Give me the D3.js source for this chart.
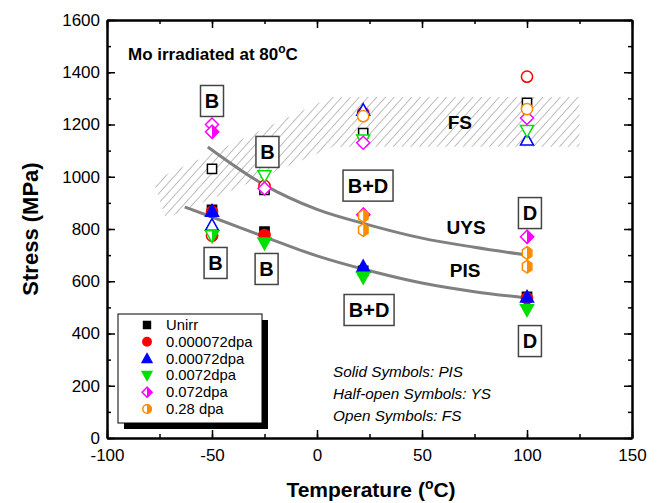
<!DOCTYPE html>
<html>
<head>
<meta charset="utf-8">
<script src="https://cdn.jsdelivr.net/npm/d3@7"></script>
<style>
  body { margin: 0; background: #fff; }
  svg { font-family: "Liberation Sans", Arial, Helvetica, sans-serif; }
</style>
</head>
<body>
<svg id="chart" width="660" height="503"></svg>
<script>
// values: [temperature degC, stress MPa]
const unirrPIS = [[-50, 873], [-25, 790], [22, 640], [100, 540]];
const unirrFS = [[-50, 1030], [-25, 950], [22, 1167], [100, 1283]];
const red1PIS = [[-50, 866], [-25, 777], [100, 535]];
const red1YS = [[-50, 775]];
const red1FS = [[-25, 965], [22, 1244], [100, 1383]];
const blue2PIS = [[-50, 869], [22, 656], [100, 540]];
const blue2FS = [[-50, 815], [22, 1255], [100, 1141]];
const green3PIS = [[-25, 746], [22, 615], [100, 490]];
const green3YS = [[-50, 773]];
const green3FS = [[-25, 1003], [22, 1140], [100, 1176]];
const mag4YS = [[-50, 1172], [22, 855], [100, 770]];
const mag4FS = [[-50, 1200], [-25, 955], [22, 1130], [100, 1225]];
const or5YS = [[22, 850], [22, 796], [100, 708], [100, 656]];
const or5FS = [[22, 1232], [100, 1259]];

const uysCurve = [[-52, 1114], [-25, 968], [0, 875], [25, 815], [50, 765], [75, 730], [100, 700]];
const pisCurve = [[-63, 884], [-50, 846], [-25, 770], [0, 697], [25, 640], [50, 593], [75, 560], [100, 536]];

const fsBand = [[7, 1115], [7, 1305], [125, 1305], [125, 1115]];
const ysBand = [[-78, 985], [7, 1305], [7, 1112], [-72, 840]];

const legendNames = ["Unirr", "0.000072dpa", "0.00072dpa", "0.0072dpa", "0.072dpa", "0.28 dpa"];
const boxLabels = [["B", -50, 1290], ["B", -23.6, 1095], ["B", -48.3, 670], ["B", -24, 647],
                   ["B+D", 24.3, 966], ["B+D", 24.8, 490], ["D", 101.4, 861], ["D", 101.4, 371]];
const curveLabels = [["FS", 68, 1210], ["UYS", 71, 808], ["PIS", 70.5, 643]];
const notes = ["Solid Symbols: PIS", "Half-open Symbols: YS", "Open Symbols: FS"];
const xTicks = [-100, -50, 0, 50, 100, 150];
const yTicks = [0, 200, 400, 600, 800, 1000, 1200, 1400, 1600];

const series = [
  {shape: "square", color: "#000", sets: [[unirrFS, "open"], [unirrPIS, "solid"]]},
  {shape: "circle", color: "#ff0000", sets: [[red1FS, "open"], [red1YS, "half"], [red1PIS, "solid"]]},
  {shape: "up", color: "#0000ff", sets: [[blue2FS, "open"], [blue2PIS, "solid"]]},
  {shape: "down", color: "#00e000", sets: [[green3FS, "open"], [green3YS, "half"], [green3PIS, "solid"]]},
  {shape: "diamond", color: "#ff00ff", sets: [[mag4FS, "open"], [mag4YS, "half"]]},
  {shape: "hex", color: "#ff8c00", sets: [[or5FS, "open", "circle"], [or5YS, "half"]]}
];

const svg = d3.select("#chart");
const x = d3.scaleLinear([-100, 150], [107, 632]);
const y = d3.scaleLinear([0, 1600], [438, 20]);

function shapePath(shape, k) {
  k = k || 1;
  if (shape === "square") { let s = 4.6 * k; return `M${-s},${-s}h${2 * s}v${2 * s}h${-2 * s}Z`; }
  if (shape === "circle") { let r = 5.6 * k; return `M${-r},0a${r},${r} 0 1,0 ${2 * r},0a${r},${r} 0 1,0 ${-2 * r},0Z`; }
  if (shape === "up") { let s = 6.5 * k; return `M0,${-s}L${s},${s * 0.8}L${-s},${s * 0.8}Z`; }
  if (shape === "down") { let s = 6.5 * k; return `M0,${s}L${s},${-s * 0.8}L${-s},${-s * 0.8}Z`; }
  if (shape === "diamond") { let s = 6.5 * k; return `M0,${-s}L${s},0L0,${s}L${-s},0Z`; }
  if (shape === "hex") {
    let r = 6.3 * k;
    return d3.range(6).map(i => {
      let a = (-90 + 60 * i) * Math.PI / 180;
      return (i ? "L" : "M") + (r * Math.cos(a) * 0.85) + "," + (r * Math.sin(a));
    }).join("") + "Z";
  }
}

const defs = svg.append("defs");
defs.append("pattern")
  .attr("id", "hatch")
  .attr("patternUnits", "userSpaceOnUse")
  .attr("width", 6.5).attr("height", 6.5)
  .attr("patternTransform", "rotate(42)")
  .append("line")
  .attr("x1", 0).attr("y1", 0).attr("x2", 0).attr("y2", 6.5)
  .attr("stroke", "#6e6e6e").attr("stroke-width", 0.9);
defs.append("clipPath").attr("id", "rightHalf")
  .append("rect").attr("x", 0).attr("y", -12).attr("width", 12).attr("height", 24);

// hatched bands
const area = d3.line().x(d => x(d[0])).y(d => y(d[1]));
svg.selectAll("path.band").data([ysBand, fsBand]).enter()
  .append("path").attr("class", "band")
  .attr("d", d => area(d) + "Z")
  .attr("fill", "url(#hatch)");

// fitted curves
const curve = d3.line().x(d => x(d[0])).y(d => y(d[1])).curve(d3.curveMonotoneX);
svg.selectAll("path.fit").data([uysCurve, pisCurve]).enter()
  .append("path").attr("class", "fit")
  .attr("d", curve)
  .attr("fill", "none").attr("stroke", "#808080").attr("stroke-width", 3);

// axes: major ticks with labels, minor ticks without, all pointing inward
function axes() {
  const g = svg.append("g");
  const xMinor = d3.range(-100, 151, 25), yMinor = d3.range(0, 1601, 100);
  const plain = d => String(d);
  g.append("g").attr("transform", "translate(0,438)")
    .call(d3.axisBottom(x).tickValues(xMinor).tickSize(-4).tickSizeOuter(0).tickFormat(""));
  g.append("g").attr("transform", "translate(0,438)")
    .call(d3.axisBottom(x).tickValues(xTicks).tickSize(-8).tickSizeOuter(0).tickPadding(11).tickFormat(plain));
  g.append("g").attr("transform", "translate(0,20)")
    .call(d3.axisTop(x).tickValues(xMinor).tickSize(-4).tickSizeOuter(0).tickFormat(""));
  g.append("g").attr("transform", "translate(0,20)")
    .call(d3.axisTop(x).tickValues(xTicks).tickSize(-8).tickSizeOuter(0).tickFormat(""));
  g.append("g").attr("transform", "translate(107,0)")
    .call(d3.axisLeft(y).tickValues(yMinor).tickSize(-4).tickSizeOuter(0).tickFormat(""));
  g.append("g").attr("transform", "translate(107,0)")
    .call(d3.axisLeft(y).tickValues(yTicks).tickSize(-8).tickSizeOuter(0).tickPadding(7).tickFormat(plain));
  g.append("g").attr("transform", "translate(632,0)")
    .call(d3.axisRight(y).tickValues(yMinor).tickSize(-4).tickSizeOuter(0).tickFormat(""));
  g.append("g").attr("transform", "translate(632,0)")
    .call(d3.axisRight(y).tickValues(yTicks).tickSize(-8).tickSizeOuter(0).tickFormat(""));
  g.selectAll(".domain").attr("stroke", "#000").attr("stroke-width", 2);
  g.selectAll(".tick line").attr("stroke", "#000").attr("stroke-width", 1.5);
  g.selectAll(".tick text").attr("font-family", "Liberation Sans, Arial, sans-serif")
    .attr("font-size", 17).attr("fill", "#000");
}
axes();

// markers
function drawMarker(sel, shape, color, kind, k) {
  sel.append("path").attr("d", shapePath(shape, k))
    .attr("fill", kind === "solid" ? color : "#fff")
    .attr("stroke", color).attr("stroke-width", 1.5);
  if (kind === "half") {
    sel.append("path").attr("d", shapePath(shape, k))
      .attr("clip-path", "url(#rightHalf)")
      .attr("fill", color).attr("stroke", color).attr("stroke-width", 1.5);
  }
}
const pts = svg.append("g");
series.forEach(s => {
  s.sets.forEach(([data, kind, alt]) => {
    data.forEach(d => {
      const g = pts.append("g").attr("transform", `translate(${x(d[0])},${y(d[1])})`);
      drawMarker(g, alt || s.shape, s.color, kind, 1);
    });
  });
});

// boxed labels
const boxes = svg.append("g");
boxLabels.forEach(([t, tx, sy]) => {
  const cx = x(tx), cy = y(sy);
  const w = t.length > 1 ? 50 : 23, h = 31;
  boxes.append("rect").attr("x", cx - w / 2).attr("y", cy - h / 2)
    .attr("width", w).attr("height", h)
    .attr("fill", "#fff").attr("stroke", "#444").attr("stroke-width", 1.5);
  boxes.append("text").attr("x", cx).attr("y", cy + 7)
    .attr("text-anchor", "middle").attr("font-weight", "bold").attr("font-size", 20)
    .text(t);
});
curveLabels.forEach(([t, tx, sy]) => {
  svg.append("text").attr("x", x(tx)).attr("y", y(sy) + 7)
    .attr("text-anchor", "middle").attr("font-weight", "bold").attr("font-size", 19)
    .text(t);
});

// title
const title = svg.append("text").attr("x", 128).attr("y", 60)
  .attr("font-weight", "bold").attr("font-size", 17);
title.append("tspan").text("Mo irradiated at 80");
title.append("tspan").attr("dy", -7).attr("font-size", 12).text("o");
title.append("tspan").attr("dy", 7).text("C");

// notes
svg.selectAll("text.note").data(notes).enter()
  .append("text").attr("class", "note")
  .attr("x", 333).attr("y", (d, i) => 377 + i * 22)
  .attr("font-style", "italic").attr("font-size", 15.3)
  .text(d => d);

// legend
const leg = svg.append("g");
leg.append("rect").attr("x", 124).attr("y", 320).attr("width", 144).attr("height", 109).attr("fill", "#000");
leg.append("rect").attr("x", 118).attr("y", 314).attr("width", 144).attr("height", 109)
  .attr("fill", "#fff").attr("stroke", "#000").attr("stroke-width", 1);
const legKinds = ["solid", "solid", "solid", "solid", "half", "half"];
legendNames.forEach((name, i) => {
  const yy = 325 + i * 16.8;
  const g = leg.append("g").attr("transform", `translate(147,${yy})`);
  drawMarker(g, i === 5 ? "circle" : series[i].shape, series[i].color, legKinds[i], 0.75);
  leg.append("text").attr("x", 166).attr("y", yy + 5).attr("font-size", 14.8).text(name);
});

// axis titles
svg.append("text").attr("transform", "translate(38,229) rotate(-90)")
  .attr("text-anchor", "middle").attr("font-weight", "bold").attr("font-size", 22)
  .text("Stress (MPa)");
const xt = svg.append("text").attr("x", 371).attr("y", 497)
  .attr("text-anchor", "middle").attr("font-weight", "bold").attr("font-size", 21);
xt.append("tspan").text("Temperature (");
xt.append("tspan").attr("dy", -8).attr("font-size", 14).text("o");
xt.append("tspan").attr("dy", 8).text("C)");
</script>
</body>
</html>
